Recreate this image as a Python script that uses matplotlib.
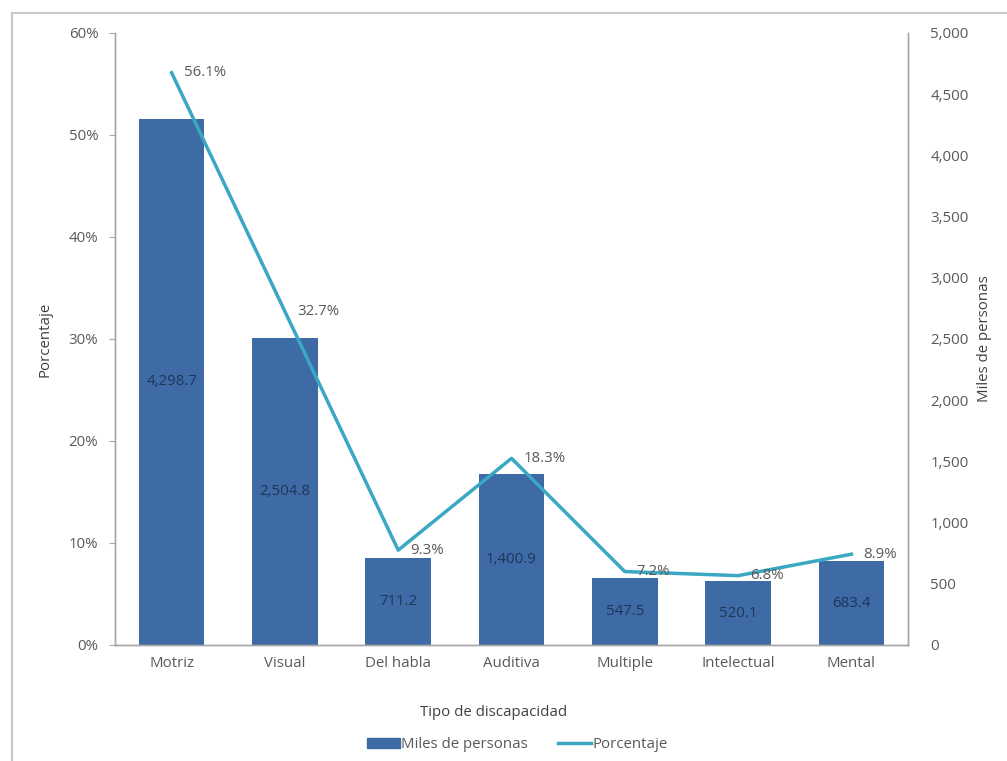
import matplotlib
matplotlib.use("Agg")
import matplotlib.pyplot as plt
from matplotlib.lines import Line2D
from matplotlib.patches import Patch
from matplotlib.ticker import FuncFormatter

categories = ["Motriz", "Visual", "Del habla", "Auditiva", "Multiple", "Intelectual", "Mental"]
miles = [4298.7, 2504.8, 711.2, 1400.9, 547.5, 520.1, 683.4]
porcentaje = [56.1, 32.7, 9.3, 18.3, 7.2, 6.8, 8.9]
pct_ticks = [0, 10, 20, 30, 40, 50, 60]
miles_ticks = [0, 500, 1000, 1500, 2000, 2500, 3000, 3500, 4000, 4500, 5000]

BAR = "#3e6aa6"
LINE = "#3aa8c2"
TXT = "#595959"
BARTXT = "#1d3659"
SPINE = "#a6a6a6"
FS = 10.8

plt.rcParams['font.family'] = ['Open Sans', 'DejaVu Sans']

fig = plt.figure(figsize=(10.07, 7.61), dpi=100)
ax = fig.add_axes([115/1007, 1-645/761, (908-115)/1007, (645-33)/761])
ax2 = ax.twinx()

x = list(range(len(categories)))
ax.bar(x, miles, width=0.58, color=BAR, zorder=2)
for xi, v in zip(x, miles):
    ax.text(xi, v/2, f"{v:,.1f}", ha="center", va="center", color=BARTXT, fontsize=FS)
ax.set_ylim(0, 5000)
ax.set_xlim(-0.5, len(categories)-0.5)
ax.yaxis.tick_right()
ax.yaxis.set_label_position("right")
ax.set_yticks(miles_ticks)
ax.yaxis.set_major_formatter(FuncFormatter(lambda v, p: f"{int(v):,}"))
ax.tick_params(axis="y", length=0, pad=16, colors=TXT, labelsize=FS)
ax.set_ylabel("Miles de personas", color="#404040", fontsize=FS, labelpad=6)
ax.set_xticks(x)
ax.set_xticklabels(categories)
ax.tick_params(axis="x", length=0, pad=8, colors=TXT, labelsize=FS)
ax.set_xlabel("Tipo de discapacidad", color="#404040", fontsize=FS, labelpad=0)
ax.xaxis.set_label_coords((494-115)/(908-115), -(705-645)/(645-33))

ax2.plot(x, porcentaje, color=LINE, lw=2.5, zorder=3)
for xi, v in zip(x, porcentaje):
    ax2.annotate(f"{v:.1f}%", (xi, v), xytext=(12, 0), textcoords="offset pixels",
                 ha="left", va="center", color=TXT, fontsize=FS)
ax2.set_ylim(0, 60)
ax2.yaxis.tick_left()
ax2.yaxis.set_label_position("left")
ax2.set_yticks(pct_ticks)
ax2.set_yticklabels([f"{t}%" for t in pct_ticks])
ax2.tick_params(axis="y", length=4, width=0.8, color=SPINE, labelcolor=TXT, labelsize=FS, pad=8)
ax2.set_ylabel("Porcentaje", color="#404040", fontsize=FS, labelpad=12)

for a in (ax, ax2):
    a.spines["top"].set_visible(False)
    for s in ("left", "right", "bottom"):
        a.spines[s].set_color(SPINE)
        a.spines[s].set_linewidth(1.0)
ax.set_zorder(1)
ax2.set_zorder(2)
ax2.patch.set_visible(False)

handles = [Patch(facecolor=BAR, edgecolor=BAR), Line2D([0], [0], color=LINE, lw=2.5)]
fig.legend(handles, ["Miles de personas", "Porcentaje"], loc="center",
           bbox_to_anchor=(517/1007, 1-745/761), ncol=2, frameon=False,
           fontsize=FS, labelcolor=TXT, handlelength=2.2, handleheight=0.6,
           handletextpad=0.1, columnspacing=2.0)

# outer frame
fig.add_artist(Line2D([12/1007, 12/1007], [0, 1-13/761], color="#c8c8c8", lw=1.5))
fig.add_artist(Line2D([12/1007, 1], [1-13/761, 1-13/761], color="#c8c8c8", lw=1.5))

fig.savefig("out.png", dpi=100)
